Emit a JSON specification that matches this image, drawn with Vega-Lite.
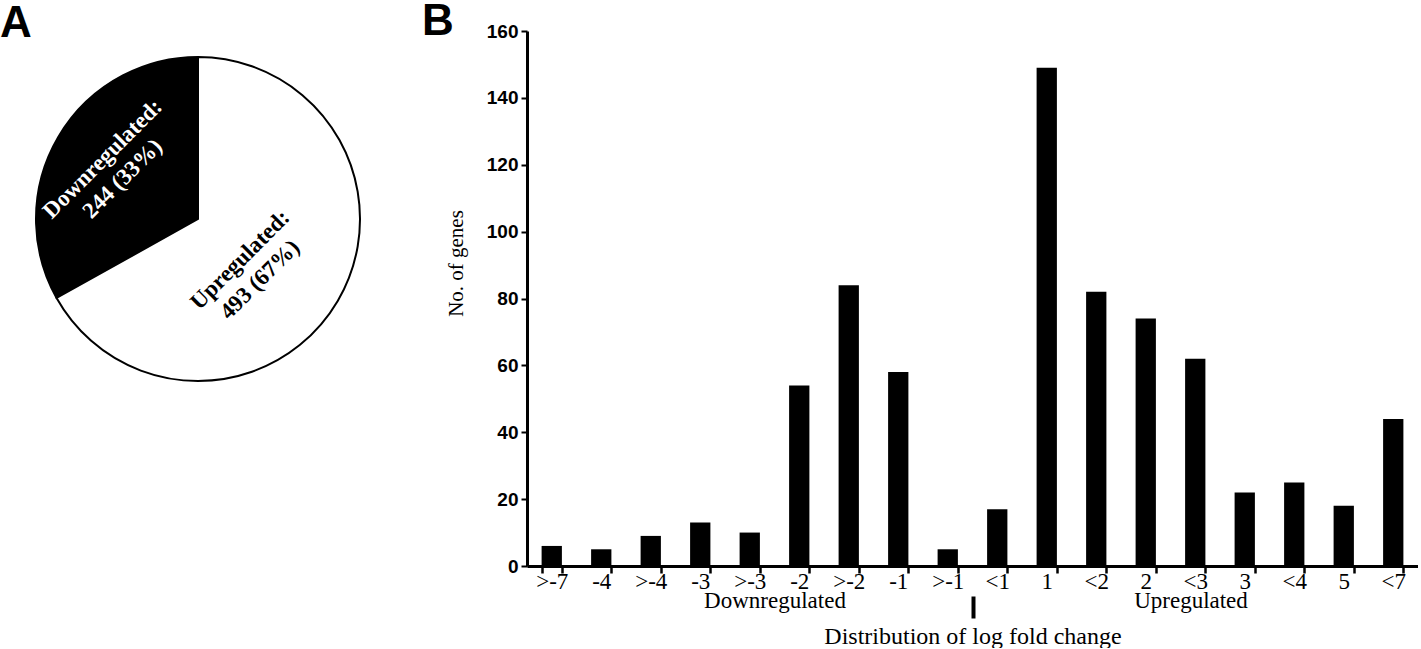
{
  "$schema": "https://vega.github.io/schema/vega-lite/v6.json",
  "padding": {"left": 0, "top": 0, "right": 0, "bottom": 0},
  "background": "white",
  "config": {"view": {"stroke": null}},
  "spacing": 131,
  "bounds": "flush",
  "datasets": {
    "pie": [
      {"status": "Downregulated", "count": 244, "label": "Downregulated:\n244 (33%)"},
      {"status": "Upregulated", "count": 493, "label": "Upregulated:\n493 (67%)"}
    ],
    "bars": [
      {"bin": ">-7", "genes": 6},
      {"bin": "-4", "genes": 5},
      {"bin": ">-4", "genes": 9},
      {"bin": "-3", "genes": 13},
      {"bin": ">-3", "genes": 10},
      {"bin": "-2", "genes": 54},
      {"bin": ">-2", "genes": 84},
      {"bin": "-1", "genes": 58},
      {"bin": ">-1", "genes": 5},
      {"bin": "<1", "genes": 17},
      {"bin": "1", "genes": 149},
      {"bin": "<2", "genes": 82},
      {"bin": "2", "genes": 74},
      {"bin": "<3", "genes": 62},
      {"bin": "3", "genes": 22},
      {"bin": "<4", "genes": 25},
      {"bin": "5", "genes": 18},
      {"bin": "<7", "genes": 44}
    ]
  },
  "hconcat": [
    {
      "width": 396,
      "height": 376,
      "title": {"text": "A", "anchor": "start", "frame": "group", "font": "Liberation Sans", "fontSize": 44, "fontWeight": "bold", "baseline": "alphabetic", "offset": -50, "color": "black"},
      "data": {"name": "pie"},
      "encoding": {
        "theta": {"field": "count", "type": "quantitative", "stack": true},
        "order": {"field": "status", "sort": "descending"}
      },
      "layer": [
        {
          "mark": {"type": "arc", "outerRadius": 162, "stroke": "black", "strokeWidth": 2},
          "encoding": {
            "color": {"field": "status", "type": "nominal", "scale": {"domain": ["Downregulated", "Upregulated"], "range": ["black", "white"]}, "legend": null}
          }
        },
        {
          "mark": {"type": "text", "radius": 99, "dy": -14, "angle": 315, "font": "Liberation Serif", "fontSize": 23, "fontWeight": "bold", "lineBreak": "\n", "lineHeight": 28, "align": "center", "baseline": "middle", "color": "white"},
          "encoding": {
            "text": {"condition": {"test": "datum.status == 'Downregulated'", "field": "label"}, "value": ""}
          }
        },
        {
          "mark": {"type": "text", "radius": 71, "dx": -17, "dy": -10, "angle": 315, "font": "Liberation Serif", "fontSize": 23, "fontWeight": "bold", "lineBreak": "\n", "lineHeight": 28, "align": "center", "baseline": "middle", "color": "black"},
          "encoding": {
            "text": {"condition": {"test": "datum.status == 'Upregulated'", "field": "label"}, "value": ""}
          }
        }
      ]
    },
    {
      "width": 891,
      "height": 535,
      "title": {"text": "B", "anchor": "start", "frame": "group", "font": "Liberation Sans", "fontSize": 44, "fontWeight": "bold", "baseline": "alphabetic", "offset": -57, "dx": -105, "color": "black"},
      "data": {"name": "bars"},
      "encoding": {
        "y": {
          "field": "genes", "type": "quantitative",
          "scale": {"domain": [0, 160]},
          "axis": {
            "values": [0, 20, 40, 60, 80, 100, 120, 140, 160],
            "grid": false,
            "domainColor": "black", "domainWidth": 3,
            "tickColor": "black", "tickWidth": 2, "tickSize": 6,
            "labelFont": "Liberation Sans", "labelFontSize": 19, "labelFontWeight": "bold", "labelColor": "black", "labelPadding": 3,
            "title": "No. of genes", "titleFont": "Liberation Serif", "titleFontSize": 21, "titleFontWeight": "normal", "titleColor": "black", "titlePadding": 20, "titleY": 232
          }
        }
      },
      "layer": [
        {
          "mark": {"type": "bar", "color": "black"},
          "encoding": {
            "x": {
              "field": "bin", "type": "nominal", "sort": null,
              "scale": {"paddingInner": 0.59, "paddingOuter": 0.295},
              "axis": {
                "title": null, "labelAngle": 0, "tickBand": "extent",
                "domainColor": "black", "domainWidth": 3,
                "tickColor": "black", "tickWidth": 2.5, "tickSize": 7,
                "labelFont": "Liberation Serif", "labelFontSize": 23, "labelColor": "black", "labelPadding": -3, "labelOverlap": false
              }
            }
          }
        },
        {
          "mark": {"type": "bar", "opacity": 0},
          "encoding": {
            "x": {
              "field": "bin", "type": "nominal", "sort": null,
              "scale": {"paddingInner": 0.59, "paddingOuter": 0.295},
              "axis": {
                "orient": "bottom", "offset": 30, "domain": false, "tickOffset": -24.75, "labelAngle": 0,
                "tickColor": "black", "tickWidth": 4, "tickSize": 22,
                "tickOpacity": {"condition": {"test": "datum.value == '<1'", "value": 1}, "value": 0},
                "labelExpr": "datum.value == '-2' ? 'Downregulated' : (datum.value == '<3' ? 'Upregulated' : '')",
                "labelOffset": {"condition": {"test": "datum.value == '<3'", "value": 20}, "value": 0},
                "labelFont": "Liberation Serif", "labelFontSize": 23, "labelColor": "black", "labelPadding": -29, "labelOverlap": false,
                "title": "Distribution of log fold change", "titleFont": "Liberation Serif", "titleFontSize": 24, "titleFontWeight": "normal", "titleColor": "black", "titlePadding": 4
              }
            }
          }
        }
      ],
      "resolve": {"axis": {"x": "independent"}}
    }
  ]
}
